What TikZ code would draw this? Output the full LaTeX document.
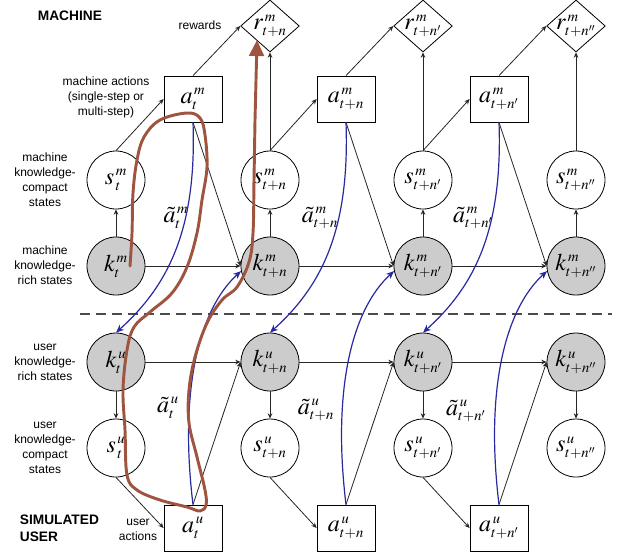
\documentclass[tikz,border=0pt]{standalone}
\usepackage{mathptmx}
\usepackage[no-math]{fontspec}
\setmainfont{Liberation Sans}
\usetikzlibrary{shapes, arrows.meta, positioning}
\DeclareMathSizes{18}{18}{11}{8}
\definecolor{pathbrown}{RGB}{158,84,62}
\definecolor{flowblue}{RGB}{40,40,160}

\begin{document}
\begin{tikzpicture}[x=0.75pt, y=-0.75pt, line width=0.6pt,
		mathtxt/.style={font=\fontsize{18}{20}\selectfont},
		know/.style={circle,draw,fill=gray!40,minimum size=43.5pt,inner sep=1pt,mathtxt},
		compact/.style={circle,draw,fill=white,minimum size=43.5pt,inner sep=1pt,mathtxt},
		act/.style={rectangle,draw,fill=white,minimum width=43.5pt,minimum height=34.5pt,inner sep=1pt,mathtxt},
		rew/.style={diamond,draw,fill=white,minimum width=44pt,minimum height=39pt,inner sep=0pt,label={[mathtxt]center:#1}},
		side/.style={font=\fontsize{9}{11.25}\selectfont,align=center},
		head/.style={font=\fontsize{10.3}{12.5}\selectfont\bfseries,align=left,anchor=west},
		arr/.style={black!85,-{Stealth[length=4pt,width=3.5pt]}},
		blu/.style={flowblue,line width=0.9pt,-{Stealth[length=6pt,width=5pt]}},
		route/.style={pathbrown,line width=2.2pt,line cap=round,line join=round}]
		%\draw[gray,step=50] (0,0) grid (623,558);
		\useasboundingbox (0,0) rectangle (623,558);

		% side texts
		\node[head] (machine) at (33,16) {MACHINE};
		\node[head] (simuser) at (15,528) {SIMULATED\\USER};
		\node[side] (rewards) at (200,25) {rewards};
		\node[side] (mactions) at (106,97) {machine actions\\(single-step or\\multi-step)};
		\node[side] (mcompact) at (45,180) {machine\\knowledge-\\compact\\states};
		\node[side] (mrich) at (45,265) {machine\\knowledge-\\rich states};
		\node[side] (urich) at (45,362) {user\\knowledge-\\rich states};
		\node[side] (ucompact) at (45,448) {user\\knowledge-\\compact\\states};
		\node[side] (uactions) at (138,530) {user\\actions};

		% separator
		\coordinate (sepL) at (80,314);
		\coordinate (sepR) at (612,314);
		\draw[black!70,line width=1pt,dash pattern=on 7.5pt off 4.5pt] (sepL) -- (sepR);

		% machine side
		\node[rew={$r^{\,m}_{t+n}$}] (r2m) at (270,26) {};
		\node[rew={$r^{\,m}_{t+n'}$}] (r3m) at (423,26) {};
		\node[rew={$r^{\,m}_{t+n''}$}] (r4m) at (576,26) {};

		\node[act] (a1m) at (193,99) {$a^{\,m}_{t}$};
		\node[act] (a2m) at (346,99) {$a^{\,m}_{t+n}$};
		\node[act] (a3m) at (499,99) {$a^{\,m}_{t+n'}$};

		\node[compact] (s1m) at (116,180) {$s^{\,m}_{\,t}$};
		\node[compact] (s2m) at (270,180) {$s^{\,m}_{t+n}$};
		\node[compact] (s3m) at (423,180) {$s^{\,m}_{t+n'}$};
		\node[compact] (s4m) at (576,180) {$s^{\,m}_{t+n''}$};

		\node[know] (k1m) at (116,266) {$k^{\,m}_{t}$};
		\node[know] (k2m) at (270,266) {$k^{\,m}_{t+n}$};
		\node[know] (k3m) at (423,266) {$k^{\,m}_{t+n'}$};
		\node[know] (k4m) at (576,266) {$k^{\,m}_{t+n''}$};

		% user side
		\node[know] (k1u) at (116,362) {$k^{\,u}_{t}$};
		\node[know] (k2u) at (270,362) {$k^{\,u}_{t+n}$};
		\node[know] (k3u) at (423,362) {$k^{\,u}_{t+n'}$};
		\node[know] (k4u) at (576,362) {$k^{\,u}_{t+n''}$};

		\node[compact] (s1u) at (116,448) {$s^{\,u}_{\,t}$};
		\node[compact] (s2u) at (270,448) {$s^{\,u}_{t+n}$};
		\node[compact] (s3u) at (423,448) {$s^{\,u}_{t+n'}$};
		\node[compact] (s4u) at (576,448) {$s^{\,u}_{t+n''}$};

		\node[act] (a1u) at (193,528) {$a^{\,u}_{t}$};
		\node[act] (a2u) at (346,528) {$a^{\,u}_{t+n}$};
		\node[act] (a3u) at (499,528) {$a^{\,u}_{t+n'}$};

		% observed actions
		\node[mathtxt] (ta1m) at (176,218) {$\tilde{a}^{\,m}_{t}$};
		\node[mathtxt] (ta2m) at (320,218) {$\tilde{a}^{\,m}_{t+n}$};
		\node[mathtxt] (ta3m) at (473,218) {$\tilde{a}^{\,m}_{t+n'}$};
		\node[mathtxt] (ta1u) at (168,408) {$\tilde{a}^{\,u}_{t}$};
		\node[mathtxt] (ta2u) at (316,410) {$\tilde{a}^{\,u}_{t+n}$};
		\node[mathtxt] (ta3u) at (466,411) {$\tilde{a}^{\,u}_{t+n'}$};

		% machine connectors
		\draw[arr] (k1m) -- (k2m);
		\draw[arr] (k2m) -- (k3m);
		\draw[arr] (k3m) -- (k4m);
		\draw[arr] (k1m) -- (s1m);
		\draw[arr] (k2m) -- (s2m);
		\draw[arr] (k3m) -- (s3m);
		\draw[arr] (k4m) -- (s4m);
		\draw[arr] (s1m.north) -- (a1m.west);
		\draw[arr] (s2m.north) -- (a2m.west);
		\draw[arr] (s3m.north) -- (a3m.west);
		\draw[arr] (s2m) -- (r2m);
		\draw[arr] (s3m) -- (r3m);
		\draw[arr] (s4m) -- (r4m);
		\draw[arr] (a1m.north) -- (r2m.west);
		\draw[arr] (a2m.north) -- (r3m.west);
		\draw[arr] (a3m.north) -- (r4m.west);
		\draw[arr] (a1m.south) -- (k2m.west);
		\draw[arr] (a2m.south) -- (k3m.west);
		\draw[arr] (a3m.south) -- (k4m.west);

		% user connectors
		\draw[arr] (k1u) -- (k2u);
		\draw[arr] (k2u) -- (k3u);
		\draw[arr] (k3u) -- (k4u);
		\draw[arr] (k1u) -- (s1u);
		\draw[arr] (k2u) -- (s2u);
		\draw[arr] (k3u) -- (s3u);
		\draw[arr] (k4u) -- (s4u);
		\draw[arr] (s1u.south) -- (a1u.west);
		\draw[arr] (s2u.south) -- (a2u.west);
		\draw[arr] (s3u.south) -- (a3u.west);
		\draw[arr] (a1u.north) -- (k2u.west);
		\draw[arr] (a2u.north) -- (k3u.west);
		\draw[arr] (a3u.north) -- (k4u.west);

		% actions seen by the other side
		\draw[blu] (a1m.south) .. controls +(4,110) and +(50,-45) .. (k1u.north);
		\draw[blu] (a2m.south) .. controls +(4,110) and +(50,-45) .. (k2u.north);
		\draw[blu] (a3m.south) .. controls +(4,110) and +(50,-45) .. (k3u.north);
		\draw[blu] (a1u.north) .. controls +(-14,-115) and +(-42,38) .. (k2m.190);
		\draw[blu] (a2u.north) .. controls +(-14,-115) and +(-42,38) .. (k3m.190);
		\draw[blu] (a3u.north) .. controls +(-14,-115) and +(-42,38) .. (k4m.190);

		% hand-drawn route
		\draw[route,-{Triangle[length=12pt,width=11pt]}] plot[smooth,tension=0.6] coordinates {
			(130,266) (132,233) (133,193) (137,160) (144,137) (160,120) (187,113)
			(200,118) (205,135) (207,167) (202,200) (197,233) (187,267) (172,293)
			(150,312) (134,327) (127,350) (123,390) (125,430) (127,475) (137,490)
			(160,500) (187,507) (200,511) (206,505) (205,490) (197,457) (189,423)
			(189,390) (195,357) (207,323) (222,300) (237,287) (249,262) (253,233)
			(254,180) (255,120)} -- (257,40);
	\end{tikzpicture}
\end{document}
